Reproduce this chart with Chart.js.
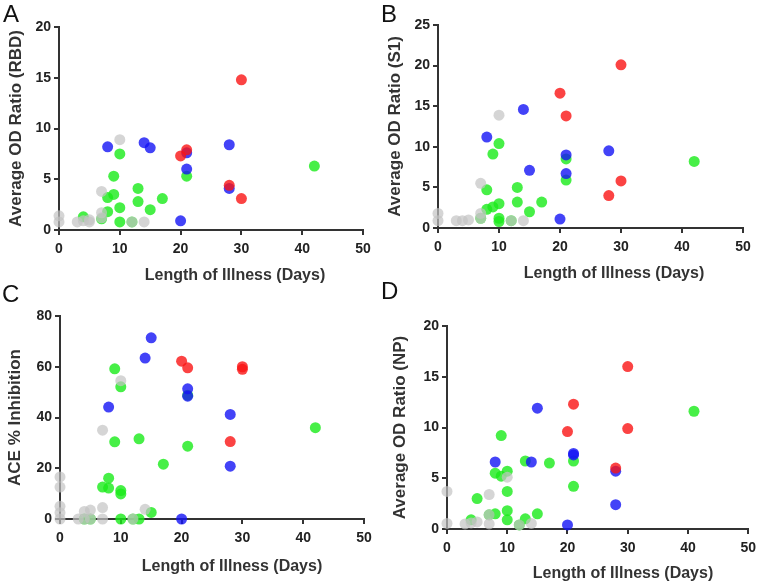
<!DOCTYPE html>
<html>
<head>
<meta charset="utf-8">
<script src="https://cdn.jsdelivr.net/npm/chart.js@4.4.1/dist/chart.umd.min.js"></script>
<style>
  body { margin: 0; background: #fff; }
  #wrap { position: relative; width: 762px; height: 585px; overflow: hidden; font-family: "Liberation Sans", Arial, sans-serif; }
  .panel { position: absolute; }
  .letter { position: absolute; font-size: 24px; line-height: 24px; color: #111; }
  .xtitle { position: absolute; width: 240px; text-align: center; font-size: 16px; line-height: 20px; font-weight: bold; color: #333; white-space: nowrap; }
</style>
</head>
<body>
<div id="wrap">
  <div class="panel" style="left:0;top:0;width:381px;height:290px"><canvas id="chartA"></canvas></div>
  <div class="panel" style="left:381px;top:0;width:381px;height:290px"><canvas id="chartB"></canvas></div>
  <div class="panel" style="left:0;top:290px;width:381px;height:295px"><canvas id="chartC"></canvas></div>
  <div class="panel" style="left:381px;top:290px;width:381px;height:295px"><canvas id="chartD"></canvas></div>

  <div class="letter" style="left:3px;top:2px">A</div>
  <div class="letter" style="left:381px;top:2px">B</div>
  <div class="letter" style="left:2px;top:282px">C</div>
  <div class="letter" style="left:381px;top:279px">D</div>

  <div class="xtitle" style="left:115px;top:265px">Length of Illness (Days)</div>
  <div class="xtitle" style="left:494px;top:263px">Length of Illness (Days)</div>
  <div class="xtitle" style="left:112px;top:556px">Length of Illness (Days)</div>
  <div class="xtitle" style="left:503px;top:563px">Length of Illness (Days)</div>
</div>

<script>
// tick labels
const xTicks = [0, 10, 20, 30, 40, 50];
const rbdTicks = [0, 5, 10, 15, 20];
const s1Ticks = [0, 5, 10, 15, 20, 25];
const aceTicks = [0, 20, 40, 60, 80];
const npTicks = [0, 5, 10, 15, 20];

// [length of illness (days), value]
// A - RBD
const rbdGray = [[0,0.8],[0,1.4],[3,0.8],[4,0.9],[5,1.0],[5,0.8],[7,1.2],[7,1.7],[7,3.8],[10,8.9],[12,0.8],[14,0.8]];
const rbdGreen = [[4,1.3],[7,1.1],[8,1.8],[8,3.2],[9,3.5],[9,5.3],[10,7.5],[10,2.2],[10,0.8],[12,0.8],[13,4.1],[13,2.8],[15,2.0],[17,3.1],[21,5.3],[42,6.3]];
const rbdBlue = [[8,8.2],[14,8.6],[15,8.1],[20,0.9],[21,7.6],[21,6.0],[28,8.4],[28,4.1]];
const rbdRed = [[20,7.3],[21,7.9],[28,4.4],[30,14.8],[30,3.1]];

// B - S1
const s1Gray = [[0,0.9],[0,1.8],[3,0.9],[4,0.9],[5,1.0],[7,1.2],[7,1.8],[7,5.5],[10,13.9],[12,0.9],[14,0.9]];
const s1Green = [[7,1.2],[8,2.3],[8,4.7],[9,2.6],[9,9.1],[10,3.0],[10,10.4],[10,1.2],[10,0.8],[12,0.9],[13,5.0],[13,3.2],[15,2.0],[17,3.2],[21,8.5],[21,5.9],[42,8.2]];
const s1Blue = [[8,11.2],[14,14.6],[15,7.1],[20,1.1],[21,9.0],[21,6.7],[28,9.5]];
const s1Red = [[20,16.6],[21,13.8],[28,4.0],[30,20.1],[30,5.8]];

// C - ACE % inhibition
const aceGray = [[0,0],[0,2.5],[0,5],[0,12.6],[0,16.6],[3,0],[4,0],[4,3],[5,0],[5,3.5],[7,4.5],[7,0],[7,35],[10,54.5],[12,0],[14,3.8]];
const aceGreen = [[4,0],[5,0],[7,12.6],[8,12.2],[8,16.1],[9,30.4],[9,59.2],[10,52.1],[10,11.2],[10,9.9],[10,0],[12,0],[13,31.6],[13,0],[15,2.6],[17,21.6],[21,28.7],[21,48.8],[42,36]];
const aceBlue = [[8,44.1],[14,63.4],[15,71.4],[20,0],[21,51.3],[21,48.4],[28,41.2],[28,20.8]];
const aceRed = [[20,62.2],[21,59.6],[28,30.5],[30,60],[30,59]];

// D - NP
const npGray = [[0,3.7],[0,0.55],[3,0.5],[4,0.6],[5,0.7],[7,1.4],[7,3.4],[7,0.5],[10,5.1],[12,0.4],[14,0.55]];
const npGreen = [[4,0.9],[5,3.0],[7,1.4],[8,1.5],[8,5.5],[9,5.2],[9,9.2],[10,5.7],[10,3.7],[10,1.8],[10,0.9],[12,0.4],[13,6.7],[13,1.0],[15,1.5],[17,6.5],[21,6.7],[21,4.2],[41,11.6]];
const npBlue = [[8,6.6],[14,6.6],[15,11.9],[20,0.4],[21,7.45],[21,7.3],[28,5.7],[28,2.4]];
const npRed = [[20,9.6],[21,12.3],[28,6.0],[30,16.0],[30,9.9]];

const FONT = '"Liberation Sans", Arial, sans-serif';
const colors = {
    red: 'rgba(250, 20, 20, 0.8)',
    blue: 'rgba(20, 20, 245, 0.8)',
    gray: 'rgba(195, 195, 195, 0.7)',
    green: 'rgba(25, 235, 25, 0.8)'
};

// chart area of each panel (inside its own canvas)
const panels = [
    { id: 'chartA', w: 381, h: 290, area: { l: 59, r: 363, t: 27, b: 230 }, titlePad: 6,
      yTitle: 'Average OD Ratio (RBD)', yTicks: rbdTicks, sets: { red: rbdRed, blue: rbdBlue, gray: rbdGray, green: rbdGreen } },
    { id: 'chartB', w: 381, h: 290, area: { l: 57, r: 362, t: 25, b: 228 }, titlePad: 4,
      yTitle: 'Average OD Ratio (S1)', yTicks: s1Ticks, sets: { red: s1Red, blue: s1Blue, gray: s1Gray, green: s1Green } },
    { id: 'chartC', w: 381, h: 295, area: { l: 60, r: 364, t: 26, b: 229 }, titlePad: 5,
      yTitle: 'ACE % Inhibition', yTicks: aceTicks, sets: { red: aceRed, blue: aceBlue, gray: aceGray, green: aceGreen } },
    { id: 'chartD', w: 381, h: 295, area: { l: 66, r: 370, t: 36, b: 239 }, titlePad: 9,
      yTitle: 'Average OD Ratio (NP)', yTicks: npTicks, sets: { red: npRed, blue: npBlue, gray: npGray, green: npGreen } }
];

const tickFont = { family: FONT, size: 14, weight: 'bold' };
const axisLine = { color: '#333', width: 2 };
const tickMarks = { display: true, drawOnChartArea: false, drawTicks: true, tickLength: 5, color: '#333', lineWidth: 2 };

panels.forEach(p => {
    const yVals = p.yTicks;
    // first dataset is drawn on top
    const datasets = ['red', 'blue', 'gray', 'green'].map(k => ({
        label: k,
        data: p.sets[k].map(d => ({ x: d[0], y: d[1] })),
        backgroundColor: colors[k],
        borderWidth: 0,
        pointRadius: 5.5,
        clip: false
    }));

    new Chart(document.getElementById(p.id), {
        type: 'scatter',
        data: { datasets },
        options: {
            responsive: true,
            maintainAspectRatio: false,
            animation: false,
            events: [],
            layout: { padding: { left: 0, top: p.area.t, right: p.w - p.area.r, bottom: 0 } },
            plugins: { legend: { display: false }, tooltip: { enabled: false } },
            scales: {
                x: {
                    type: 'linear',
                    min: xTicks[0],
                    max: xTicks[xTicks.length - 1],
                    afterBuildTicks: s => { s.ticks = xTicks.map(v => ({ value: v })); },
                    afterFit: s => { s.height = p.h - p.area.b; },
                    border: axisLine,
                    grid: tickMarks,
                    ticks: { color: '#222', font: tickFont, padding: 6, maxRotation: 0 }
                },
                y: {
                    type: 'linear',
                    min: yVals[0],
                    max: yVals[yVals.length - 1],
                    afterBuildTicks: s => { s.ticks = yVals.map(v => ({ value: v })); },
                    afterFit: s => { s.width = p.area.l; },
                    border: axisLine,
                    grid: tickMarks,
                    ticks: { color: '#222', font: tickFont, padding: 3 },
                    title: {
                        display: true,
                        text: p.yTitle,
                        color: '#333',
                        font: { family: FONT, size: 17, weight: 'bold' },
                        padding: { top: p.titlePad, bottom: 0 }
                    }
                }
            }
        }
    });
});
</script>
</body>
</html>
